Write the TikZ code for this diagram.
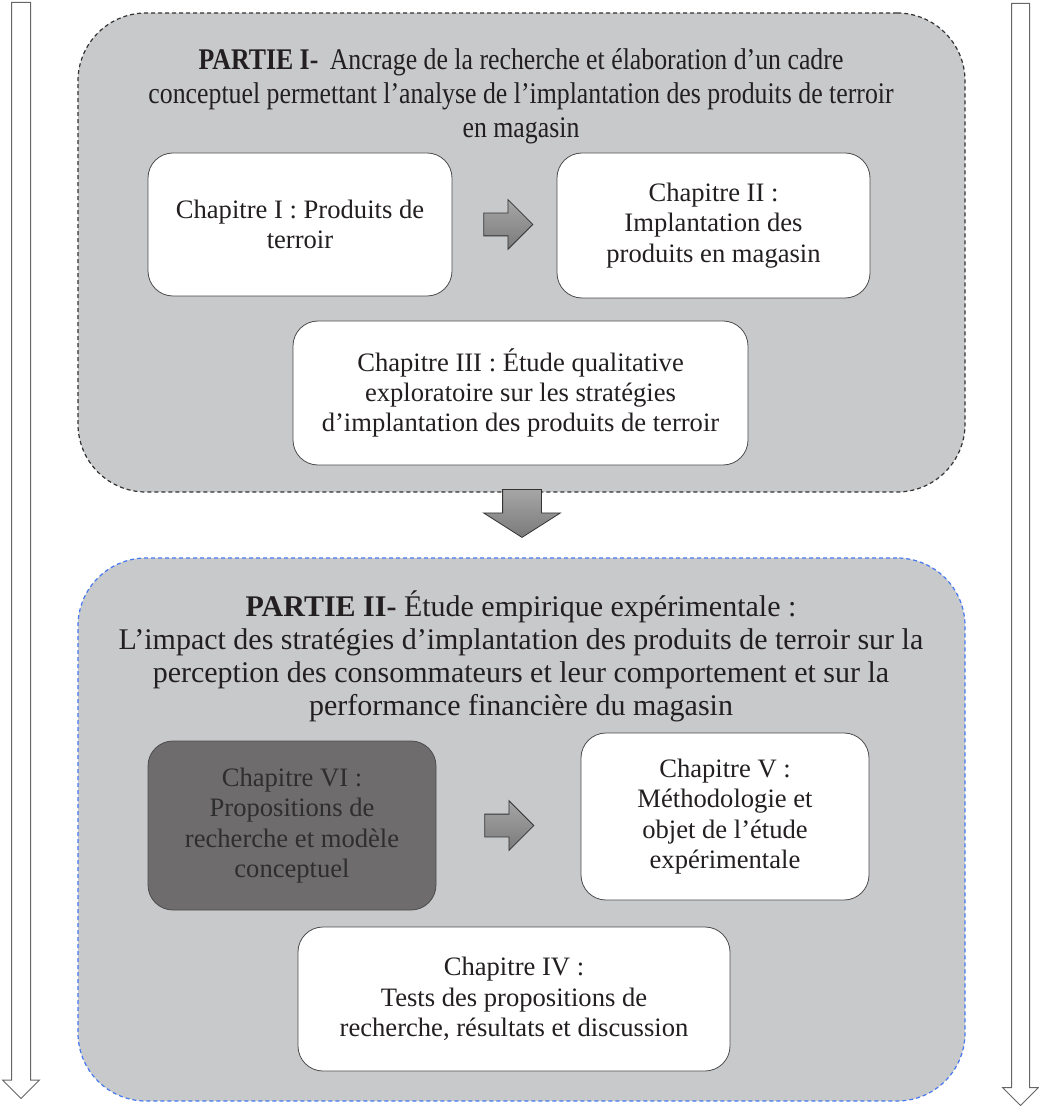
\documentclass[tikz,border=0pt]{standalone}
\usepackage{fontspec}
\setmainfont{Liberation Serif}
\newfontfamily\narrowserif[FakeStretch=0.86]{Liberation Serif}
\usepackage{tikz}
\usetikzlibrary{positioning,shapes.arrows}
\definecolor{partgray}{RGB}{200,201,203}
\definecolor{darkbox}{RGB}{110,108,109}
\definecolor{dashblue}{RGB}{70,120,240}
\definecolor{ink}{RGB}{35,31,32}
\tikzstyle{part} = [rectangle, rounded corners=34pt, fill=partgray, dash pattern=on 2pt off 1.5pt, line width=0.6pt]
\tikzstyle{title} = [align=center, text=ink]
\tikzstyle{chap} = [draw=black!70, rectangle, rounded corners=12.5pt, fill=white, align=center, text=ink, inner sep=0pt, font=\fontsize{13.3}{15.2}\selectfont]
\tikzstyle{fat} = [single arrow, draw=black!80, top color=black!35, bottom color=black!52, inner xsep=0pt, inner ysep=5.5pt, minimum height=24.5pt, single arrow tip angle=90, single arrow head extend=6.75pt]
\tikzstyle{side} = [single arrow, draw=black!60, fill=white, line width=0.5pt, shape border rotate=270, anchor=tail, inner ysep=0pt, single arrow tip angle=90, single arrow head extend=4.5pt]

\begin{document}
\begin{tikzpicture}[x=0.5pt, y=-0.5pt]
	\useasboundingbox (0,0) rectangle (1038,1106);
	\node (sideL) [side, inner xsep=4.5pt, minimum height=548pt] at (21,2) {};
	\node (sideR) [side, inner xsep=4.25pt, minimum height=551pt] at (1020.5,3) {};
	% first part
	\node (p1) [part, draw=black!80, minimum width=443.5pt, minimum height=239.5pt] at (521.5,252.5) {};
	\node (t1) [title, font=\narrowserif\fontsize{15}{17}\selectfont] at (521,96)
		{\textbf{PARTIE I-}\, Ancrage de la recherche et élaboration d’un cadre\\conceptuel permettant l’analyse de l’implantation des produits de terroir\\en magasin};
	\node (c1) [chap, minimum width=152pt, minimum height=71.5pt] at (300,224.5) {Chapitre I : Produits de\\terroir};
	\node (a1) [fat, right=15.5pt of c1] {};
	\node (c2) [chap, minimum width=156.5pt, minimum height=72.5pt] at (713.5,225.5) {Chapitre II :\\Implantation des\\produits en magasin};
	\node (c3) [chap, minimum width=227.5pt, minimum height=72pt] at (520.5,393) {Chapitre III : Étude qualitative\\exploratoire sur les stratégies\\d’implantation des produits de terroir};
	% second part
	\node (p2) [part, draw=dashblue, minimum width=443.5pt, minimum height=271.5pt] at (521.5,829.5) {};
	\node (a2) [fat, shape border rotate=270, anchor=tail, inner xsep=9.5pt, inner ysep=0pt, minimum height=24pt, single arrow head extend=9.5pt, single arrow tip angle=115] at (522,489) {};
	\node (t2) [title, font=\fontsize{15}{16.5}\selectfont] at (521,656.5)
		{\textbf{PARTIE II-} Étude empirique expérimentale :\\L’impact des stratégies d’implantation des produits de terroir sur la\\perception des consommateurs et leur comportement et sur la\\performance financière du magasin};
	\node (c6) [chap, fill=darkbox, text=black!82, minimum width=144pt, minimum height=84.5pt] at (292,825.5) {Chapitre VI :\\Propositions de\\recherche et modèle\\conceptuel};
	\node (a3) [fat, right=24pt of c6] {};
	\node (c5) [chap, minimum width=144pt, minimum height=83.5pt] at (725,816.5) {Chapitre V :\\Méthodologie et\\objet de l’étude\\expérimentale};
	\node (c4) [chap, minimum width=216pt, minimum height=72pt] at (514,999) {Chapitre IV :\\Tests des propositions de\\recherche, résultats et discussion};
\end{tikzpicture}
\end{document}
